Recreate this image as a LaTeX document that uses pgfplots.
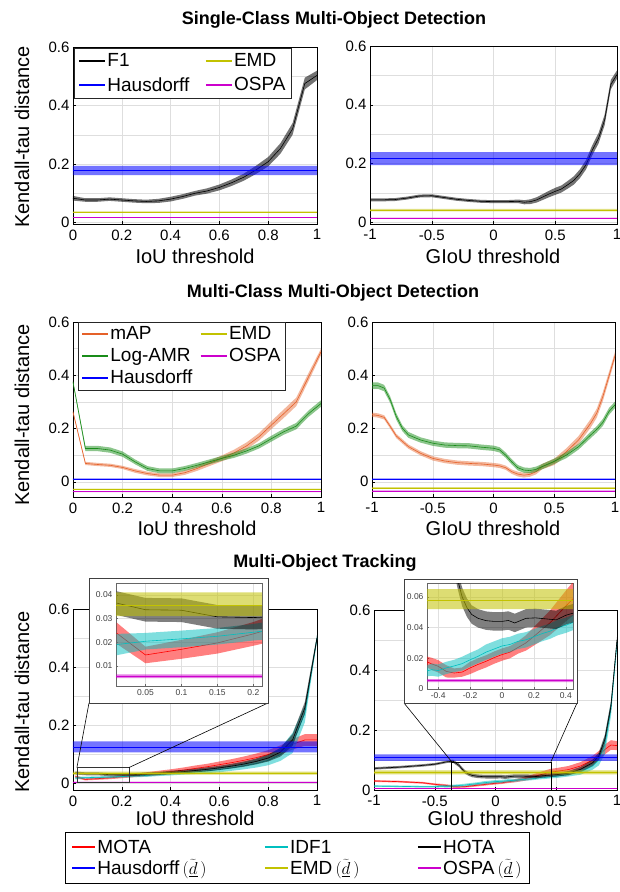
\documentclass[border=0pt]{standalone}
\usepackage{fontspec}
\setmainfont{Liberation Sans}
\usepackage{pgfplots}
\usepackage{pgfplotstable}
\pgfplotsset{compat=1.18}

\definecolor{mblue}{rgb}{0,0,1}
\definecolor{mred}{rgb}{1,0,0}
\definecolor{mcyan}{rgb}{0,0.75,0.75}
\definecolor{memd}{rgb}{0.76,0.76,0}
\definecolor{mmag}{rgb}{0.8,0,0.8}
\definecolor{morange}{rgb}{0.9,0.38,0.16}
\definecolor{mgreen}{rgb}{0.1,0.55,0.1}

\newcommand\fsz[1]{\fontsize{#1}{#1}\selectfont}

% turn a table (x y e) into a closed outline: rows forward (s=1), then backward (s=-1)
\newcommand\mkband[1]{%
  \pgfplotstablesort[sort key=x, sort cmp=float >]{\tmprev}{#1}%
  \pgfplotstablecreatecol[expr={-1}]{s}{\tmprev}%
  \pgfplotstablecreatecol[expr={1}]{s}{#1}%
  \pgfplotstablevertcat{#1}{\tmprev}%
}
% band: table, colour, opacity
\newcommand\band[3]{%
  \addplot[fill=#2, fill opacity=#3, draw=none, forget plot] table[x=x, y expr=\thisrow{y}+\thisrow{s}*\thisrow{e}] {#1};
  \addplot[#2, line width=0.6pt, forget plot] table[x=x, y=y] {#1};
}
% flat band: x0, x1, lo, mid, hi, colour, opacity
\newcommand\hband[7]{%
  \addplot[fill=#6, fill opacity=#7, draw=none, forget plot] coordinates {(#1,#3) (#2,#3) (#2,#5) (#1,#5) (#1,#3)};
  \addplot[#6, line width=0.6pt, forget plot] coordinates {(#1,#4) (#2,#4)};
}

% ---------- single-class ----------
\pgfplotstableread{
x y e
0 0.083 0.008
0.05 0.077 0.006
0.1 0.077 0.006
0.15 0.080 0.006
0.2 0.077 0.006
0.25 0.074 0.006
0.3 0.072 0.006
0.35 0.074 0.007
0.4 0.080 0.008
0.45 0.089 0.008
0.5 0.100 0.008
0.55 0.108 0.009
0.6 0.120 0.010
0.65 0.136 0.011
0.7 0.155 0.012
0.75 0.180 0.014
0.8 0.208 0.016
0.85 0.253 0.018
0.9 0.320 0.020
0.95 0.475 0.020
1 0.503 0.016
}\tFa
\pgfplotstableread{
x y e
-1 0.077 0.005
-0.9 0.077 0.005
-0.8 0.078 0.005
-0.7 0.083 0.005
-0.6 0.090 0.005
-0.5 0.091 0.005
-0.4 0.085 0.005
-0.3 0.079 0.005
-0.2 0.075 0.005
-0.1 0.072 0.005
0 0.071 0.005
0.1 0.071 0.005
0.2 0.072 0.006
0.25 0.069 0.007
0.3 0.071 0.008
0.35 0.077 0.009
0.4 0.087 0.010
0.45 0.097 0.011
0.5 0.106 0.012
0.55 0.114 0.012
0.6 0.128 0.013
0.65 0.143 0.014
0.7 0.166 0.015
0.75 0.197 0.016
0.8 0.246 0.017
0.85 0.286 0.018
0.9 0.349 0.018
0.95 0.469 0.016
1 0.503 0.014
}\tFb
% ---------- multi-class ----------
\pgfplotstableread{
x y e
0 0.262 0.005
0.05 0.069 0.006
0.1 0.065 0.006
0.15 0.062 0.006
0.2 0.054 0.006
0.25 0.041 0.007
0.3 0.031 0.007
0.35 0.025 0.007
0.4 0.025 0.007
0.45 0.034 0.008
0.5 0.050 0.009
0.55 0.069 0.010
0.6 0.088 0.011
0.65 0.109 0.012
0.7 0.135 0.013
0.75 0.169 0.014
0.8 0.213 0.015
0.85 0.256 0.016
0.9 0.300 0.016
0.95 0.394 0.015
1 0.488 0.012
}\tMapA
\pgfplotstableread{
x y e
0 0.375 0.005
0.05 0.125 0.010
0.1 0.125 0.010
0.15 0.119 0.010
0.2 0.104 0.010
0.25 0.075 0.009
0.3 0.050 0.009
0.35 0.041 0.009
0.4 0.041 0.009
0.45 0.050 0.009
0.5 0.062 0.009
0.55 0.075 0.009
0.6 0.088 0.009
0.65 0.100 0.010
0.7 0.116 0.010
0.75 0.135 0.010
0.8 0.162 0.011
0.85 0.188 0.011
0.9 0.209 0.012
0.95 0.256 0.012
1 0.294 0.012
}\tLogA
\pgfplotstableread{
x y e
-1 0.252 0.008
-0.95 0.249 0.008
-0.9 0.242 0.008
-0.85 0.208 0.008
-0.8 0.172 0.008
-0.7 0.132 0.008
-0.6 0.107 0.008
-0.5 0.088 0.008
-0.4 0.078 0.008
-0.3 0.072 0.008
-0.2 0.069 0.008
-0.1 0.067 0.008
0 0.063 0.008
0.05 0.060 0.008
0.1 0.053 0.008
0.15 0.038 0.008
0.2 0.029 0.009
0.25 0.025 0.009
0.3 0.028 0.009
0.35 0.038 0.010
0.4 0.057 0.010
0.5 0.075 0.012
0.6 0.113 0.013
0.7 0.157 0.015
0.8 0.220 0.016
0.85 0.258 0.017
0.9 0.320 0.017
0.95 0.396 0.016
1 0.474 0.014
}\tMapB
\pgfplotstableread{
x y e
-1 0.361 0.012
-0.95 0.361 0.012
-0.9 0.352 0.012
-0.85 0.308 0.012
-0.8 0.245 0.012
-0.75 0.201 0.011
-0.7 0.176 0.011
-0.6 0.157 0.010
-0.5 0.145 0.010
-0.4 0.138 0.010
-0.3 0.136 0.010
-0.2 0.135 0.010
-0.1 0.130 0.010
0 0.126 0.010
0.05 0.120 0.010
0.1 0.100 0.010
0.15 0.075 0.010
0.2 0.053 0.010
0.25 0.044 0.010
0.3 0.042 0.010
0.35 0.047 0.010
0.4 0.057 0.010
0.5 0.077 0.010
0.6 0.100 0.011
0.7 0.132 0.011
0.8 0.176 0.012
0.85 0.197 0.012
0.9 0.223 0.013
0.95 0.264 0.013
1 0.289 0.012
}\tLogB
% ---------- tracking, IoU ----------
\pgfplotstableread{
x y e
0.01 0.0238 0.0045
0.05 0.0146 0.0035
0.1 0.017 0.004
0.15 0.0197 0.0045
0.2 0.0235 0.005
0.25 0.028 0.006
0.3 0.032 0.007
0.35 0.036 0.008
0.4 0.041 0.008
0.45 0.046 0.009
0.5 0.052 0.010
0.55 0.058 0.010
0.6 0.065 0.011
0.65 0.072 0.012
0.7 0.080 0.013
0.75 0.089 0.014
0.8 0.100 0.015
0.85 0.115 0.016
0.9 0.135 0.018
0.95 0.150 0.020
1 0.150 0.020
}\tMotaA
\pgfplotstableread{
x y e
0.01 0.019 0.0045
0.05 0.0204 0.0035
0.1 0.0214 0.0035
0.15 0.0225 0.0035
0.2 0.0242 0.0035
0.25 0.026 0.004
0.3 0.028 0.005
0.35 0.031 0.005
0.4 0.034 0.006
0.45 0.037 0.006
0.5 0.040 0.007
0.55 0.044 0.008
0.6 0.048 0.009
0.65 0.054 0.010
0.7 0.061 0.012
0.75 0.069 0.014
0.8 0.080 0.017
0.85 0.100 0.022
0.9 0.140 0.035
0.95 0.240 0.030
1 0.500 0.010
}\tIdfA
\pgfplotstableread{
x y e
0.01 0.0365 0.005
0.05 0.0337 0.005
0.1 0.0335 0.005
0.15 0.0307 0.005
0.2 0.0304 0.005
0.25 0.031 0.005
0.3 0.033 0.005
0.35 0.035 0.005
0.4 0.038 0.006
0.45 0.041 0.006
0.5 0.045 0.006
0.55 0.049 0.007
0.6 0.054 0.007
0.65 0.060 0.008
0.7 0.067 0.009
0.75 0.076 0.010
0.8 0.088 0.012
0.85 0.108 0.015
0.9 0.150 0.020
0.95 0.260 0.020
1 0.500 0.010
}\tHotaA
% ---------- tracking, GIoU ----------
\pgfplotstableread{
x y e
-1 0.030 0.003
-0.8 0.028 0.003
-0.6 0.024 0.003
-0.5 0.019 0.003
-0.44 0.0163 0.004
-0.4 0.0148 0.004
-0.35 0.0115 0.004
-0.3 0.0104 0.003
-0.25 0.011 0.003
-0.2 0.0137 0.004
-0.15 0.016 0.004
-0.1 0.018 0.004
-0.05 0.0204 0.004
0 0.0224 0.004
0.05 0.024 0.004
0.1 0.027 0.004
0.15 0.030 0.005
0.2 0.0343 0.006
0.25 0.0387 0.007
0.3 0.043 0.008
0.35 0.0485 0.009
0.4 0.054 0.010
0.45 0.0593 0.011
0.5 0.062 0.011
0.6 0.068 0.012
0.7 0.080 0.013
0.8 0.100 0.014
0.85 0.115 0.015
0.9 0.135 0.016
0.95 0.150 0.016
1 0.148 0.015
}\tMotaB
\pgfplotstableread{
x y e
-1 0.013 0.003
-0.8 0.012 0.003
-0.6 0.011 0.003
-0.5 0.011 0.003
-0.44 0.0126 0.004
-0.4 0.012 0.004
-0.35 0.0137 0.004
-0.3 0.015 0.004
-0.25 0.0165 0.0045
-0.2 0.019 0.0045
-0.15 0.0213 0.0045
-0.1 0.024 0.005
-0.05 0.026 0.005
0 0.028 0.005
0.05 0.029 0.005
0.1 0.031 0.005
0.15 0.032 0.005
0.2 0.034 0.005
0.25 0.036 0.005
0.3 0.0376 0.005
0.35 0.040 0.005
0.4 0.0415 0.005
0.45 0.0435 0.005
0.5 0.046 0.006
0.6 0.052 0.007
0.7 0.060 0.009
0.8 0.080 0.012
0.85 0.100 0.018
0.9 0.150 0.030
0.95 0.270 0.025
1 0.490 0.010
}\tIdfB
\pgfplotstableread{
x y e
-1 0.072 0.004
-0.9 0.074 0.004
-0.8 0.076 0.004
-0.7 0.079 0.004
-0.6 0.082 0.004
-0.5 0.086 0.004
-0.45 0.090 0.004
-0.4 0.094 0.004
-0.35 0.096 0.005
-0.3 0.082 0.006
-0.275 0.070 0.006
-0.25 0.060 0.006
-0.22 0.053 0.006
-0.19 0.0485 0.006
-0.15 0.046 0.006
-0.1 0.0445 0.006
-0.05 0.044 0.006
0 0.044 0.006
0.04 0.0446 0.006
0.08 0.043 0.006
0.15 0.046 0.006
0.21 0.0463 0.006
0.27 0.0457 0.006
0.34 0.045 0.006
0.4 0.048 0.006
0.45 0.0495 0.006
0.5 0.051 0.006
0.6 0.056 0.007
0.7 0.069 0.008
0.8 0.091 0.010
0.85 0.113 0.012
0.9 0.169 0.015
0.95 0.280 0.015
1 0.500 0.010
}\tHotaB

\mkband\tFa \mkband\tFb
\mkband\tMapA \mkband\tLogA \mkband\tMapB \mkband\tLogB
\mkband\tMotaA \mkband\tIdfA \mkband\tHotaA
\mkband\tMotaB \mkband\tIdfB \mkband\tHotaB

\newcommand\trackA{%
  \band{\tMotaA}{mred}{0.5}
  \band{\tIdfA}{mcyan}{0.5}
  \band{\tHotaA}{black}{0.5}
  \hband{0}{1}{0.107}{0.126}{0.145}{mblue}{0.55}
  \hband{0}{1}{0.031}{0.0357}{0.041}{memd}{0.55}
  \hband{0}{1}{0.0048}{0.0056}{0.0064}{mmag}{0.5}
}
\newcommand\trackB{%
  \band{\tMotaB}{mred}{0.5}
  \band{\tIdfB}{mcyan}{0.5}
  \band{\tHotaB}{black}{0.5}
  \hband{-1}{1}{0.097}{0.108}{0.119}{mblue}{0.55}
  \hband{-1}{1}{0.052}{0.058}{0.065}{memd}{0.55}
  \hband{-1}{1}{0.0045}{0.0055}{0.0065}{mmag}{0.5}
}

\pgfplotsset{
  kt/.style={scale only axis, anchor=south west, clip=true,
    axis line style={black, line width=0.6pt},
    grid=both, major grid style={black!13, line width=0.4pt},
    minor grid style={black!13, line width=0.4pt},
    tick align=inside, major tick length=3pt, minor tick length=0pt,
    tick style={black, line width=0.5pt}, tick pos=left,
    ticklabel style={font=\fsz{15}, text=black},
    xticklabel style={yshift=-2pt},
    legend cell align=left,
    legend image code/.code={\draw[##1, line width=1.6pt] (0pt,0pt) -- (26pt,0pt);},
  },
  iou/.style={xmin=0, xmax=1, xtick={0,0.2,0.4,0.6,0.8,1},
    xticklabels={0,0.2,0.4,0.6,0.8,1}},
  giou/.style={xmin=-1, xmax=1, xtick={-1,-0.5,0,0.5,1},
    xticklabels={-1,-0.5,0,0.5,1}},
  yk/.style={ymax=0.6, ytick={0,0.2,0.4,0.6}, yticklabels={0,0.2,0.4,0.6},
    minor ytick={0.1,0.3,0.5}},
  inset/.style={scale only axis, anchor=south west, clip=true,
    scaled x ticks=false, scaled y ticks=false,
    axis line style={black!60, line width=0.5pt},
    grid=major, major grid style={black!12, line width=0.3pt},
    tick align=inside, major tick length=2pt, tick style={black!60}, tick pos=left,
    ticklabel style={font=\fsz{8.5}, text=black!75},
  },
}

\begin{document}
\begin{tikzpicture}

% ===== row 1 =====
\begin{axis}[kt, iou, yk, at={(73pt,668pt)}, width=244pt, height=177pt, ymin=-0.005,
  legend columns=2,
  legend style={at={(0.004,0.994)}, anchor=north west, font=\fsz{19}, draw=black!85,
    line width=0.7pt, fill=white, inner sep=4pt, nodes={inner sep=1.5pt}, row sep=6pt,
    /tikz/every even column/.append style={column sep=14pt}}]
  \band{\tFa}{black}{0.55}
  \hband{0}{1}{0.162}{0.178}{0.194}{mblue}{0.55}
  \hband{0}{1}{0.034}{0.036}{0.038}{memd}{0.5}
  \hband{0}{1}{0.0155}{0.017}{0.0185}{mmag}{0.5}
  \addlegendimage{black}\addlegendentry{F1}
  \addlegendimage{memd}\addlegendentry{EMD}
  \addlegendimage{mblue}\addlegendentry{Hausdorff}
  \addlegendimage{mmag}\addlegendentry{OSPA}
\end{axis}

\begin{axis}[kt, giou, yk, at={(370pt,668pt)}, width=247pt, height=178pt, ymin=-0.005]
  \band{\tFb}{black}{0.55}
  \hband{-1}{1}{0.195}{0.217}{0.239}{mblue}{0.55}
  \hband{-1}{1}{0.038}{0.042}{0.046}{memd}{0.5}
  \hband{-1}{1}{0.0135}{0.015}{0.0165}{mmag}{0.5}
\end{axis}

% ===== row 2 =====
\begin{axis}[kt, iou, yk, at={(73pt,395pt)}, width=248pt, height=175pt, ymin=-0.057,
  legend columns=2,
  legend style={at={(0.02,1)}, anchor=north west, font=\fsz{19}, draw=black!85,
    line width=0.7pt, fill=white, inner sep=3pt, nodes={inner sep=1.5pt}, row sep=4pt,
    /tikz/every even column/.append style={column sep=6pt}}]
  \band{\tMapA}{morange}{0.45}
  \band{\tLogA}{mgreen}{0.5}
  \hband{0}{1}{0.007}{0.010}{0.013}{mblue}{0.5}
  \hband{0}{1}{-0.030}{-0.028}{-0.026}{memd}{0.5}
  \hband{0}{1}{-0.0385}{-0.037}{-0.0355}{mmag}{0.5}
  \addlegendimage{morange}\addlegendentry{mAP}
  \addlegendimage{memd}\addlegendentry{EMD}
  \addlegendimage{mgreen}\addlegendentry{Log-AMR}
  \addlegendimage{mmag}\addlegendentry{OSPA}
  \addlegendimage{mblue}\addlegendentry{Hausdorff}
\end{axis}

\begin{axis}[kt, giou, yk, at={(372pt,395pt)}, width=243pt, height=175pt, ymin=-0.057]
  \band{\tMapB}{morange}{0.45}
  \band{\tLogB}{mgreen}{0.5}
  \hband{-1}{1}{0.007}{0.010}{0.013}{mblue}{0.5}
  \hband{-1}{1}{-0.026}{-0.023}{-0.020}{memd}{0.5}
  \hband{-1}{1}{-0.036}{-0.034}{-0.032}{mmag}{0.5}
\end{axis}

% ===== row 3 =====
\begin{axis}[kt, iou, yk, at={(73pt,102pt)}, width=244pt, height=181pt, ymin=-0.022,
  legend columns=3,
  legend style={at={(-0.0328,-0.232)}, anchor=north west, font=\fsz{19}, draw=black,
    line width=0.7pt, fill=white, inner sep=6pt, nodes={inner sep=1.5pt}, row sep=2pt,
    /tikz/every even column/.append style={column sep=56pt}},
  legend image code/.code={\draw[#1, line width=1.6pt] (0pt,0pt) -- (23pt,0pt);}]
  \trackA
  \draw[black!80, line width=0.6pt] (axis cs:0.016,0.003) rectangle (axis cs:0.229,0.055);
  \coordinate (r5a) at (axis cs:0.016,0.055);
  \coordinate (r5b) at (axis cs:0.229,0.055);
  \addlegendimage{mred}\addlegendentry{MOTA}
  \addlegendimage{mcyan}\addlegendentry{IDF1}
  \addlegendimage{black}\addlegendentry{HOTA}
  \addlegendimage{mblue}\addlegendentry{Hausdorff\,$(\widetilde{\underline{d}}\,)$}
  \addlegendimage{memd}\addlegendentry{EMD\,$(\widetilde{\underline{d}}\,)$}
  \addlegendimage{mmag}\addlegendentry{OSPA\,$(\widetilde{\underline{d}}\,)$}
\end{axis}

\begin{axis}[kt, giou, yk, at={(374pt,102pt)}, width=243pt, height=180pt, ymin=0]
  \trackB
  \draw[black, line width=0.6pt] (axis cs:-0.36,0) rectangle (axis cs:0.456,0.094);
  \coordinate (r6a) at (axis cs:-0.36,0.094);
  \coordinate (r6b) at (axis cs:0.456,0.094);
\end{axis}

% zoom connectors and inset frames
\draw[black, line width=0.6pt] (r5a) -- (89pt,189pt) (r5b) -- (268pt,189pt);
\filldraw[fill=white, draw=black!75, line width=0.7pt] (89pt,189pt) rectangle (268pt,314pt);
\draw[black, line width=0.6pt] (r6a) -- (404pt,189pt) (r6b) -- (577pt,189pt);
\filldraw[fill=white, draw=black!75, line width=0.7pt] (404pt,189pt) rectangle (577pt,313pt);

\begin{axis}[inset, at={(116pt,206pt)}, width=146pt, height=103pt,
  xmin=0.009, xmax=0.212, ymin=0.0015, ymax=0.045,
  xtick={0.05,0.1,0.15,0.2}, xticklabels={0.05,0.1,0.15,0.2},
  ytick={0.01,0.02,0.03,0.04}, yticklabels={0.01,0.02,0.03,0.04}]
  \trackA
\end{axis}

\begin{axis}[inset, at={(427pt,203pt)}, width=146pt, height=106pt,
  xmin=-0.47, xmax=0.445, ymin=0, ymax=0.069,
  xtick={-0.4,-0.2,0,0.2,0.4}, xticklabels={-0.4,-0.2,0,0.2,0.4},
  ytick={0,0.02,0.04,0.06}, yticklabels={0,0.02,0.04,0.06}]
  \trackB
\end{axis}

% titles and axis labels
\node[font=\fsz{18}\bfseries, anchor=base] at (334pt,867pt) {Single-Class Multi-Object Detection};
\node[font=\fsz{18}\bfseries, anchor=base] at (333pt,594pt) {Multi-Class Multi-Object Detection};
\node[font=\fsz{18}\bfseries, anchor=base] at (325pt,324pt) {Multi-Object Tracking};

\node[rotate=90, font=\fsz{20}] at (22pt,755pt) {Kendall-tau distance};
\node[rotate=90, font=\fsz{20}] at (22pt,477pt) {Kendall-tau distance};
\node[rotate=90, font=\fsz{20}] at (22pt,190pt) {Kendall-tau distance};

\node[font=\fsz{20}] at (195pt,636pt) {IoU threshold};
\node[font=\fsz{20}] at (493pt,636pt) {GIoU threshold};
\node[font=\fsz{20}] at (197pt,364pt) {IoU threshold};
\node[font=\fsz{20}] at (493pt,364pt) {GIoU threshold};
\node[font=\fsz{20}] at (195pt,74pt) {IoU threshold};
\node[font=\fsz{20}] at (495pt,74pt) {GIoU threshold};

\pgfresetboundingbox
\path[use as bounding box] (0pt,0pt) rectangle (619pt,892pt);
\end{tikzpicture}
\end{document}
